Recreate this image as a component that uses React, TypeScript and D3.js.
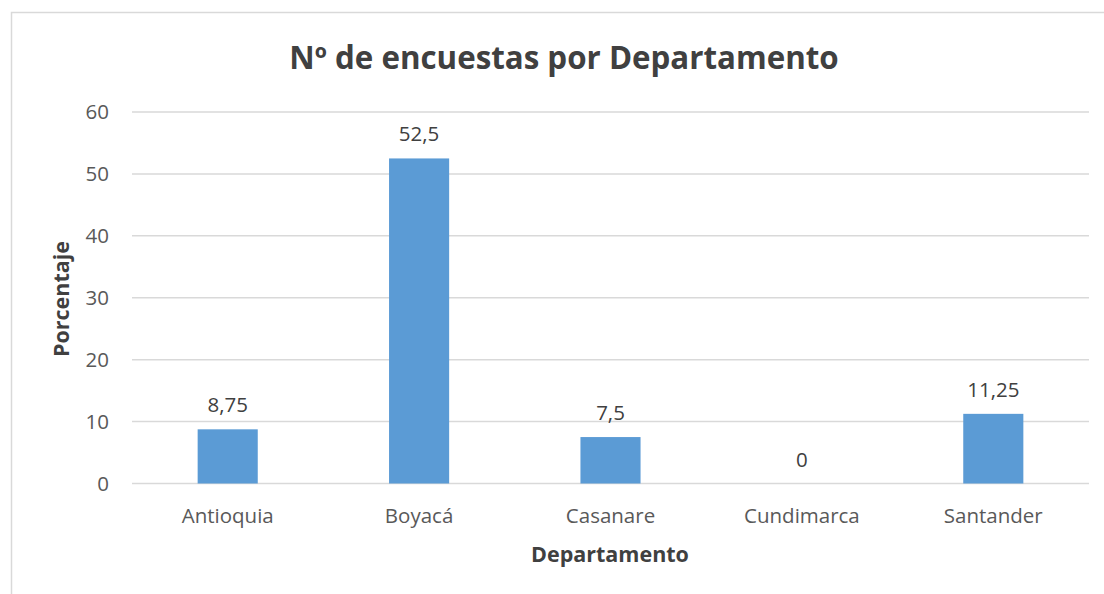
import { useEffect, useRef } from 'react';
import * as d3 from 'd3';

const categories = ['Antioquia', 'Boyacá', 'Casanare', 'Cundimarca', 'Santander'];
const values = [8.75, 52.5, 7.5, 0, 11.25];
const yTicks = [0, 10, 20, 30, 40, 50, 60];

const W = 1104;
const H = 594;
const FONT = '"Open Sans", "Liberation Sans", sans-serif';

const App = () => {
    const svgRef = useRef(null);

    useEffect(() => {
        const svg = d3.select(svgRef.current);
        svg.selectAll('*').remove();

        const left = 132, right = 1089, top = 112, bottom = 483.5;

        // chart frame (runs off the bottom/right of the picture)
        svg.append('rect')
            .attr('x', 11.5).attr('y', 12.5)
            .attr('width', 1120).attr('height', 620)
            .attr('fill', '#fff').attr('stroke', '#d9d9d9').attr('stroke-width', 1.5);

        const x = d3.scaleBand().domain(categories).range([left, right]);
        const y = d3.scaleLinear().domain([0, 60]).range([bottom, top]);

        // gridlines
        svg.append('g').selectAll('line')
            .data(yTicks)
            .enter().append('line')
            .attr('x1', left).attr('x2', right)
            .attr('y1', d => y(d)).attr('y2', d => y(d))
            .attr('stroke', '#d9d9d9').attr('stroke-width', 1.5);

        // y tick labels
        svg.append('g').selectAll('text')
            .data(yTicks)
            .enter().append('text')
            .attr('x', 109).attr('y', d => y(d))
            .attr('dy', '0.35em')
            .attr('text-anchor', 'end')
            .style('font-family', FONT).style('font-size', '20.5px')
            .attr('fill', '#595959')
            .text(d => d);

        const barW = x.bandwidth() * 0.314;

        // bars
        svg.append('g').selectAll('rect')
            .data(values)
            .enter().append('rect')
            .attr('x', (d, i) => x(categories[i]) + x.bandwidth() / 2 - barW / 2)
            .attr('y', d => y(d))
            .attr('width', barW)
            .attr('height', d => bottom - y(d))
            .attr('fill', '#5b9bd5');

        // value labels
        svg.append('g').selectAll('text')
            .data(values)
            .enter().append('text')
            .attr('x', (d, i) => x(categories[i]) + x.bandwidth() / 2)
            .attr('y', d => y(d) - 17)
            .attr('text-anchor', 'middle')
            .style('font-family', FONT).style('font-size', '20.5px')
            .attr('fill', '#404040')
            .text(d => String(d).replace('.', ','));

        // category labels
        svg.append('g').selectAll('text')
            .data(categories)
            .enter().append('text')
            .attr('x', d => x(d) + x.bandwidth() / 2)
            .attr('y', 523)
            .attr('text-anchor', 'middle')
            .style('font-family', FONT).style('font-size', '20.5px')
            .attr('fill', '#595959')
            .text(d => d);

        // title
        svg.append('text')
            .attr('x', 564).attr('y', 69)
            .attr('text-anchor', 'middle')
            .style('font-family', FONT).style('font-size', '31.3px').style('font-weight', 'bold')
            .attr('fill', '#404040')
            .text('Nº de encuestas por Departamento');

        // axis titles
        svg.append('text')
            .attr('x', 610).attr('y', 562)
            .attr('text-anchor', 'middle')
            .style('font-family', FONT).style('font-size', '21.5px').style('font-weight', 'bold')
            .attr('fill', '#404040')
            .text('Departamento');

        svg.append('text')
            .attr('transform', 'translate(69, 299) rotate(-90)')
            .attr('text-anchor', 'middle')
            .style('font-family', FONT).style('font-size', '21.5px').style('font-weight', 'bold')
            .attr('fill', '#404040')
            .text('Porcentaje');
    }, []);

    return (
        <svg ref={svgRef} width={W} height={H} style={{ position: 'absolute', left: 0, top: 0 }}></svg>
    );
};

export default App;
